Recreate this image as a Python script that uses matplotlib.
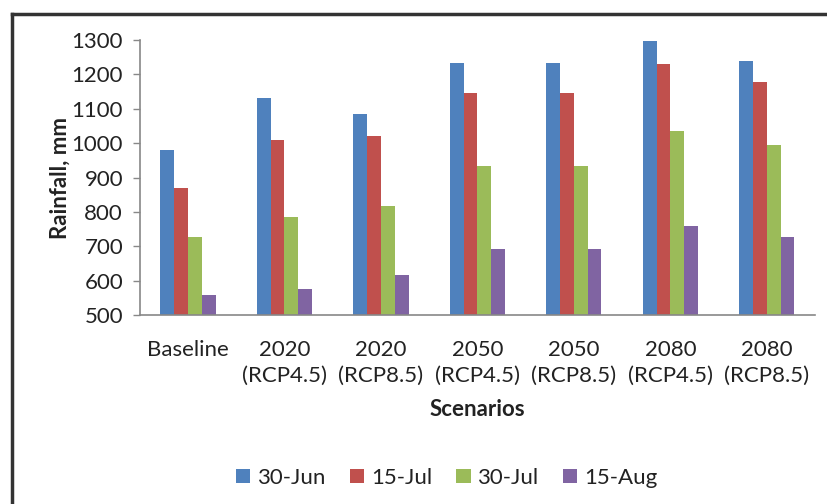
import matplotlib
matplotlib.use("Agg")
import matplotlib.pyplot as plt
import numpy as np
from matplotlib.lines import Line2D

scenarios = ["Baseline", "2020\n(RCP4.5)", "2020\n(RCP8.5)", "2050\n(RCP4.5)",
             "2050\n(RCP8.5)", "2080\n(RCP4.5)", "2080\n(RCP8.5)"]
series_names = ["30-Jun", "15-Jul", "30-Jul", "15-Aug"]
jun30 = [980, 1130, 1085, 1233, 1233, 1298, 1240]
jul15 = [870, 1010, 1022, 1146, 1146, 1230, 1178]
jul30 = [728, 786, 818, 933, 933, 1036, 995]
aug15 = [558, 575, 616, 693, 693, 760, 728]
y_ticks = [500, 600, 700, 800, 900, 1000, 1100, 1200, 1300]

colors = ["#4F81BD", "#C0504D", "#9BBB59", "#8064A2"]
series = [jun30, jul15, jul30, aug15]

plt.rcParams["font.family"] = ["Lato", "DejaVu Sans"]
fig = plt.figure(figsize=(8.27, 5.04), dpi=100)
ax = fig.add_axes([0.169, 0.375, 0.8165, 0.5456])

x = np.arange(len(scenarios))
w = 0.143
for i, (vals, name, c) in enumerate(zip(series, series_names, colors)):
    ax.bar(x + (i - 1.5) * w, np.array(vals) - 500, width=w, bottom=500,
           color=c, label=name, edgecolor="none")

ax.set_xlim(-0.5, len(scenarios) - 0.5)
ax.set_ylim(500, 1300)
ax.set_yticks(y_ticks)
ax.set_xticks(x)
ax.set_xticklabels(scenarios, fontsize=16, color="#222222", linespacing=1.35)
ax.tick_params(axis="x", length=0, pad=18)
ax.tick_params(axis="y", length=5, width=1, color="#888888", labelsize=16,
               labelcolor="#222222", pad=7)
for s in ("top", "right"):
    ax.spines[s].set_visible(False)
for s in ("left", "bottom"):
    ax.spines[s].set_color("#888888")
    ax.spines[s].set_linewidth(1.2)

ax.set_ylabel("Rainfall, mm", fontsize=16, fontweight="bold", color="#222222",
              labelpad=1)
ax.set_xlabel("Scenarios", fontsize=16, fontweight="bold", color="#222222",
              labelpad=10)

leg = fig.legend(loc="center", bbox_to_anchor=(0.54, 0.052), ncol=4,
                 frameon=False, fontsize=16, handlelength=0.65, handleheight=0.65,
                 handletextpad=0.3, columnspacing=1.1)
for t in leg.get_texts():
    t.set_color("#222222")

# outer frame lines
fig.add_artist(Line2D([12 / 827, 12 / 827], [0, 1 - 14 / 504],
                      transform=fig.transFigure, color="#333333", lw=2.5))
fig.add_artist(Line2D([12 / 827, 1], [1 - 14 / 504, 1 - 14 / 504],
                      transform=fig.transFigure, color="#333333", lw=2.5))

fig.savefig("out.png", dpi=100)
